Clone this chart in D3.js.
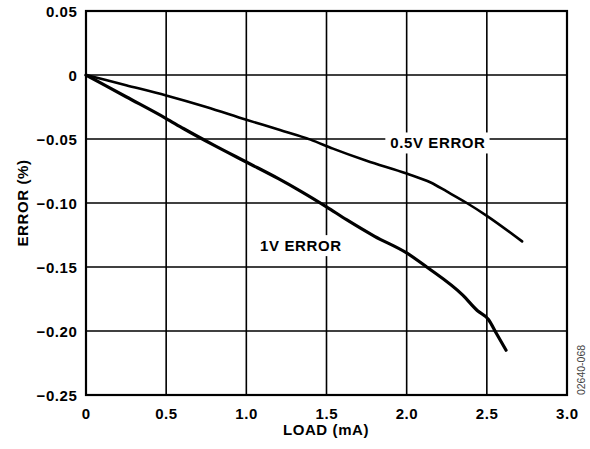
<!DOCTYPE html>
<html><head><meta charset="utf-8">
<script src="https://cdn.jsdelivr.net/npm/d3@7"></script>
<style>body{margin:0;background:#fff}svg{display:block}text{font-family:"Liberation Sans",Arial,sans-serif}</style>
</head><body>
<svg id="c" width="590" height="449"></svg>
<script>
const xTicks = [0, 0.5, 1.0, 1.5, 2.0, 2.5, 3.0];
const xTickLabels = ["0", "0.5", "1.0", "1.5", "2.0", "2.5", "3.0"];
const yTicks = [0.05, 0, -0.05, -0.10, -0.15, -0.20, -0.25];
const yTickLabels = ["0.05", "0", "\u22120.05", "\u22120.10", "\u22120.15", "\u22120.20", "\u22120.25"];
const load05 = [0, 0.25, 0.5, 0.75, 1.0, 1.21, 1.4, 1.54, 1.75, 2.0, 2.15, 2.25, 2.375, 2.5, 2.72];
const err05  = [0, -0.008, -0.016, -0.025, -0.035, -0.043, -0.0505, -0.0575, -0.067, -0.077, -0.084, -0.091, -0.1, -0.11, -0.13];
const load1 = [0, 0.25, 0.5, 0.61, 0.8, 1.0, 1.2, 1.335, 1.5, 1.625, 1.8, 2.0, 2.125, 2.35, 2.44, 2.51, 2.56, 2.62];
const err1  = [0, -0.017, -0.034, -0.042, -0.055, -0.068, -0.081, -0.0905, -0.103, -0.113, -0.126, -0.139, -0.15, -0.172, -0.184, -0.191, -0.202, -0.215];
const seriesLabels = [{text: "0.5V ERROR", x: 2.195, y: -0.0531}, {text: "1V ERROR", x: 1.34, y: -0.1333}];

const svg = d3.select("#c");
const L = 86, R = 567, T = 11, B = 395;
const x = d3.scaleLinear().domain([0, 3]).range([L, R]);
const y = d3.scaleLinear().domain([-0.25, 0.05]).range([B, T]);
const FS = 15, LS = 0.6;

// grid
svg.append("g").selectAll("line").data(xTicks.slice(1, -1)).join("line")
  .attr("x1", d => x(d)).attr("x2", d => x(d)).attr("y1", T).attr("y2", B)
  .attr("stroke", "#000").attr("stroke-width", 1.6);
svg.append("g").selectAll("line").data(yTicks.slice(1, -1)).join("line")
  .attr("y1", d => y(d)).attr("y2", d => y(d)).attr("x1", L).attr("x2", R)
  .attr("stroke", "#000").attr("stroke-width", 1.6);

// series labels with white box
seriesLabels.forEach(s => {
  const g = svg.append("g");
  const t = g.append("text").attr("x", x(s.x)).attr("y", y(s.y)).attr("text-anchor", "middle")
    .attr("dominant-baseline", "central").attr("font-size", FS).attr("font-weight", "bold")
    .attr("letter-spacing", LS).text(s.text);
  const bb = t.node().getBBox();
  g.insert("rect", "text").attr("x", bb.x - 5).attr("y", bb.y - 2).attr("width", bb.width + 9).attr("height", bb.height + 4).attr("fill", "#fff");
});

// series
const line = d3.line().x(d => x(d[0])).y(d => y(d[1])).curve(d3.curveMonotoneX);
svg.append("path").datum(load05.map((v, i) => [v, err05[i]])).attr("d", line)
  .attr("fill", "none").attr("stroke", "#000").attr("stroke-width", 2.6).attr("stroke-linejoin", "round").attr("stroke-linecap", "round");
svg.append("path").datum(load1.map((v, i) => [v, err1[i]])).attr("d", line)
  .attr("fill", "none").attr("stroke", "#000").attr("stroke-width", 3.2).attr("stroke-linejoin", "round").attr("stroke-linecap", "round");

// frame
svg.append("rect").attr("x", L).attr("y", T).attr("width", R - L).attr("height", B - T)
  .attr("fill", "none").attr("stroke", "#000").attr("stroke-width", 2.2);

// tick labels
svg.append("g").selectAll("text").data(xTicks).join("text")
  .attr("x", d => x(d) + LS / 2).attr("y", 419).attr("text-anchor", "middle")
  .attr("font-size", FS).attr("font-weight", "bold").attr("letter-spacing", LS).text((d, i) => xTickLabels[i]);
svg.append("g").selectAll("text").data(yTicks).join("text")
  .attr("x", 77.5).attr("y", d => y(d)).attr("text-anchor", "end").attr("dominant-baseline", "central")
  .attr("font-size", FS).attr("font-weight", "bold").attr("letter-spacing", LS).text((d, i) => yTickLabels[i]);

// axis titles
svg.append("text").attr("x", 326).attr("y", 435).attr("text-anchor", "middle")
  .attr("font-size", FS).attr("font-weight", "bold").attr("letter-spacing", LS).text("LOAD (mA)");
svg.append("text").attr("transform", `translate(22,${(T + B) / 2}) rotate(-90)`).attr("text-anchor", "middle")
  .attr("dominant-baseline", "central").attr("font-size", FS).attr("font-weight", "bold").attr("letter-spacing", LS).text("ERROR (%)");
svg.append("text").attr("transform", `translate(580.5,370) rotate(-90)`).attr("text-anchor", "middle")
  .attr("dominant-baseline", "central").attr("font-size", 10.5).attr("fill", "#444").text("02640-068");
</script>
</body></html>
